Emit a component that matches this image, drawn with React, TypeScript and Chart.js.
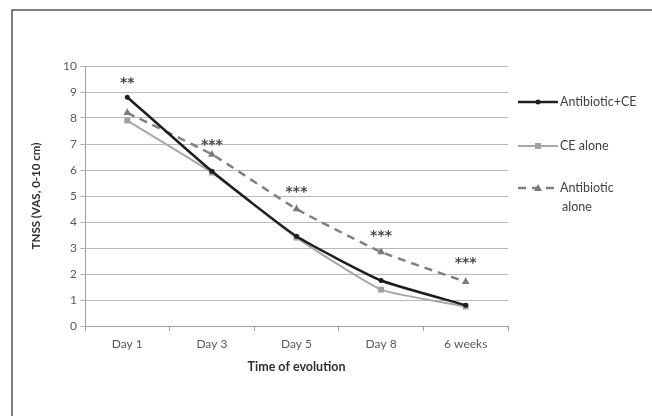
import React, { useEffect, useRef } from 'react';
import { Chart, registerables } from 'chart.js';

Chart.register(...registerables);

const categories = ['Day 1', 'Day 3', 'Day 5', 'Day 8', '6 weeks'];
const antibioticCE = [8.8, 5.95, 3.45, 1.75, 0.8];
const ceAlone = [7.9, 5.9, 3.4, 1.4, 0.75];
const antibioticAlone = [8.2, 6.6, 4.5, 2.85, 1.7];
const seriesNames = ['Antibiotic+CE', 'CE alone', 'Antibiotic alone'];
const starLabels = ['**', '***', '***', '***', '***'];
const starLevels = [9.5, 7.1, 5.3, 3.6, 2.55];
const yTitle = 'TNSS (VAS, 0-10 cm)';
const xTitle = 'Time of evolution';

const FONT = 'Lato, "Open Sans", sans-serif';

const decor = {
  id: 'decor',
  beforeDraw(chart: any) {
    const ctx = chart.ctx;
    ctx.save();
    ctx.fillStyle = '#ffffff';
    ctx.fillRect(0, 0, chart.width, chart.height);
    ctx.strokeStyle = '#555555';
    ctx.lineWidth = 1.5;
    ctx.beginPath();
    ctx.moveTo(12, chart.height + 2);
    ctx.lineTo(12, 10);
    ctx.lineTo(chart.width + 2, 10);
    ctx.stroke();
    ctx.restore();
  },
  afterDraw(chart: any) {
    const ctx = chart.ctx;
    const xs = chart.scales.x;
    const ys = chart.scales.y;
    const area = chart.chartArea;
    ctx.save();
    // stars
    ctx.fillStyle = '#484848';
    ctx.font = `bold 14px "DejaVu Sans", sans-serif`;
    ctx.textAlign = 'center';
    ctx.textBaseline = 'middle';
    starLabels.forEach((s, i) => {
      ctx.fillText(s, xs.getPixelForValue(i), ys.getPixelForValue(starLevels[i]) + 4);
    });
    // axis titles
    ctx.fillStyle = '#2e2e2e';
    ctx.font = `bold 12.5px ${FONT}`;
    ctx.fillText(xTitle, (area.left + area.right) / 2, 367);
    ctx.save();
    ctx.translate(36, (area.top + area.bottom) / 2);
    ctx.rotate(-Math.PI / 2);
    ctx.font = `bold 11.5px ${FONT}`;
    ctx.fillText(yTitle, 0, 0);
    ctx.restore();
    // legend
    const ds = chart.data.datasets;
    const rows = [102, 146, 188];
    ctx.font = `12.5px ${FONT}`;
    ctx.textAlign = 'left';
    ds.forEach((d: any, i: number) => {
      const y = rows[i];
      ctx.strokeStyle = d.borderColor;
      ctx.lineWidth = d.borderWidth;
      ctx.setLineDash(d.borderDash || []);
      ctx.beginPath();
      ctx.moveTo(518, y);
      ctx.lineTo(558, y);
      ctx.stroke();
      ctx.setLineDash([]);
      ctx.fillStyle = d.pointBackgroundColor;
      const cx = 538;
      if (d.pointStyle === 'rect') {
        ctx.fillRect(cx - 3, y - 3, 6, 6);
      } else if (d.pointStyle === 'triangle') {
        ctx.beginPath();
        ctx.moveTo(cx, y - 4);
        ctx.lineTo(cx + 4, y + 3);
        ctx.lineTo(cx - 4, y + 3);
        ctx.closePath();
        ctx.fill();
      } else {
        ctx.beginPath();
        ctx.arc(cx, y, 2.5, 0, Math.PI * 2);
        ctx.fill();
      }
      ctx.fillStyle = '#404040';
      const name = seriesNames[i];
      if (i === 2) {
        const parts = name.split(' ');
        ctx.fillText(parts[0], 560, y);
        ctx.fillText(parts[1], 562, y + 19);
      } else {
        ctx.fillText(name, 560, y);
      }
    });
    ctx.restore();
  },
};

export default function App() {
  const ref = useRef<HTMLCanvasElement>(null);
  useEffect(() => {
    if (!ref.current) return;
    const chart = new Chart(ref.current, {
      type: 'line',
      data: {
        labels: categories,
        datasets: [
          {
            label: seriesNames[0],
            data: antibioticCE,
            borderColor: '#1e1e1e',
            backgroundColor: '#1e1e1e',
            pointBackgroundColor: '#1e1e1e',
            pointBorderColor: '#1e1e1e',
            borderWidth: 2.5,
            pointStyle: 'circle',
            pointRadius: 2.5,
            pointBorderWidth: 0,
            tension: 0.15,
          },
          {
            label: seriesNames[1],
            data: ceAlone,
            borderColor: '#a8a8a8',
            backgroundColor: '#a0a0a0',
            pointBackgroundColor: '#a0a0a0',
            pointBorderColor: '#a0a0a0',
            borderWidth: 2,
            pointStyle: 'rect',
            pointRadius: 4.2,
            pointBorderWidth: 0,
            tension: 0.15,
          },
          {
            label: seriesNames[2],
            data: antibioticAlone,
            borderColor: '#808080',
            backgroundColor: '#7a7a7a',
            pointBackgroundColor: '#7a7a7a',
            pointBorderColor: '#7a7a7a',
            borderWidth: 2.5,
            borderDash: [8, 6],
            pointStyle: 'triangle',
            pointRadius: 4.5,
            pointBorderWidth: 0,
            tension: 0.15,
          },
        ],
      },
      options: {
        animation: false,
        responsive: false,
        maintainAspectRatio: false,
        layout: { padding: { left: 0, top: 66, right: 144, bottom: 0 } },
        plugins: {
          legend: { display: false },
          tooltip: { enabled: false },
        },
        scales: {
          x: {
            type: 'category',
            offset: true,
            afterFit: (s: any) => { s.height = 90; },
            grid: {
              display: true,
              offset: true,
              drawOnChartArea: false,
              drawTicks: true,
              tickLength: 5,
              color: '#a0a0a0',
            },
            border: { display: true, color: '#a0a0a0', width: 1 },
            ticks: {
              color: '#595959',
              font: { family: FONT, size: 12 },
              padding: 6,
              maxRotation: 0,
            },
          },
          y: {
            min: 0,
            max: 10,
            afterFit: (s: any) => { s.width = 85; },
            grid: {
              color: '#b8b8b8',
              lineWidth: 1,
              drawTicks: true,
              tickLength: 5,
            },
            border: { display: true, color: '#a0a0a0', width: 1 },
            ticks: {
              stepSize: 1,
              color: '#595959',
              font: { family: FONT, size: 12 },
              padding: 3,
            },
          },
        },
      },
      plugins: [decor],
    });
    return () => chart.destroy();
  }, []);
  return (
    <div style={{ position: 'fixed', left: 0, top: 0, width: 652, height: 416 }}>
      <canvas ref={ref} width={652} height={416} style={{ width: 652, height: 416 }} />
    </div>
  );
}
